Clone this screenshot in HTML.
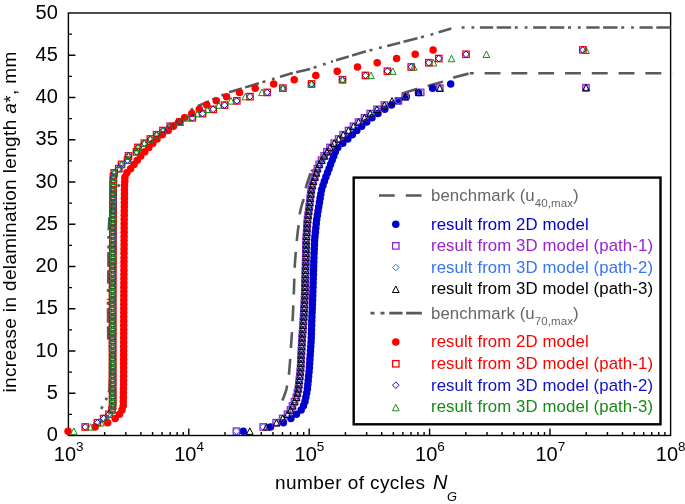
<!DOCTYPE html><html><head><meta charset="utf-8"><style>html,body{margin:0;padding:0;background:#fff}svg{display:block;will-change:transform}</style></head><body>
<svg width="685" height="504" viewBox="0 0 685 504" font-family="Liberation Sans, sans-serif">
<rect width="685" height="504" fill="#fff"/>
<defs><clipPath id="cp"><rect x="67.7" y="12" width="604.6" height="425"/></clipPath></defs>
<rect x="68.4" y="13.0" width="602.2" height="422.5" fill="none" stroke="#000" stroke-width="1.4"/><path d="M68.4 414.38h3.6 M68.4 393.25h7 M68.4 372.12h3.6 M68.4 351h7 M68.4 329.88h3.6 M68.4 308.75h7 M68.4 287.62h3.6 M68.4 266.5h7 M68.4 245.38h3.6 M68.4 224.25h7 M68.4 203.12h3.6 M68.4 182h7 M68.4 160.88h3.6 M68.4 139.75h7 M68.4 118.62h3.6 M68.4 97.5h7 M68.4 76.38h3.6 M68.4 55.25h7 M68.4 34.12h3.6 M104.64 435.5v-3.6 M125.85 435.5v-3.6 M140.89 435.5v-3.6 M152.56 435.5v-3.6 M162.09 435.5v-3.6 M170.15 435.5v-3.6 M177.13 435.5v-3.6 M183.29 435.5v-3.6 M188.8 435.5v-7 M225.04 435.5v-3.6 M246.25 435.5v-3.6 M261.29 435.5v-3.6 M272.96 435.5v-3.6 M282.49 435.5v-3.6 M290.55 435.5v-3.6 M297.53 435.5v-3.6 M303.69 435.5v-3.6 M309.2 435.5v-7 M345.44 435.5v-3.6 M366.65 435.5v-3.6 M381.69 435.5v-3.6 M393.36 435.5v-3.6 M402.89 435.5v-3.6 M410.95 435.5v-3.6 M417.93 435.5v-3.6 M424.09 435.5v-3.6 M429.6 435.5v-7 M465.84 435.5v-3.6 M487.05 435.5v-3.6 M502.09 435.5v-3.6 M513.76 435.5v-3.6 M523.29 435.5v-3.6 M531.35 435.5v-3.6 M538.33 435.5v-3.6 M544.49 435.5v-3.6 M550 435.5v-7 M586.24 435.5v-3.6 M607.45 435.5v-3.6 M622.49 435.5v-3.6 M634.16 435.5v-3.6 M643.69 435.5v-3.6 M651.75 435.5v-3.6 M658.73 435.5v-3.6 M664.89 435.5v-3.6" stroke="#000" stroke-width="1.4" fill="none"/><text x="57.8" y="441.1" font-size="20" text-anchor="end">0</text><text x="57.8" y="398.85" font-size="20" text-anchor="end">5</text><text x="57.8" y="356.6" font-size="20" text-anchor="end">10</text><text x="57.8" y="314.35" font-size="20" text-anchor="end">15</text><text x="57.8" y="272.1" font-size="20" text-anchor="end">20</text><text x="57.8" y="229.85" font-size="20" text-anchor="end">25</text><text x="57.8" y="187.6" font-size="20" text-anchor="end">30</text><text x="57.8" y="145.35" font-size="20" text-anchor="end">35</text><text x="57.8" y="103.1" font-size="20" text-anchor="end">40</text><text x="57.8" y="60.85" font-size="20" text-anchor="end">45</text><text x="57.8" y="18.6" font-size="20" text-anchor="end">50</text><text x="68.7" y="460.6" font-size="20" text-anchor="middle">10<tspan font-size="13.5" dy="-9.5">3</tspan></text><text x="189.1" y="460.6" font-size="20" text-anchor="middle">10<tspan font-size="13.5" dy="-9.5">4</tspan></text><text x="309.5" y="460.6" font-size="20" text-anchor="middle">10<tspan font-size="13.5" dy="-9.5">5</tspan></text><text x="429.9" y="460.6" font-size="20" text-anchor="middle">10<tspan font-size="13.5" dy="-9.5">6</tspan></text><text x="550.3" y="460.6" font-size="20" text-anchor="middle">10<tspan font-size="13.5" dy="-9.5">7</tspan></text><text x="670.7" y="460.6" font-size="20" text-anchor="middle">10<tspan font-size="13.5" dy="-9.5">8</tspan></text><text x="275" y="488.8" font-size="19" letter-spacing="0.42">number of cycles <tspan font-style="italic" font-size="20" dx="2">N</tspan><tspan font-style="italic" font-size="12.8" dy="12" dx="-1">G</tspan></text><text transform="translate(16,392.5) rotate(-90)" font-size="19" letter-spacing="0.36">increase in delamination length <tspan font-style="italic">a</tspan><tspan dy="1">*</tspan><tspan dy="-1">, mm</tspan></text>
<g clip-path="url(#cp)" fill="none" stroke="#595a5d" stroke-width="2.6">
<path d="M282.3 400.6 L284.2 396 L285.6 392 L286.6 388.5 L287.3 384 L289 373.8 L290.2 359.5 L291 346.4 L291.9 333.3 L292.6 320.2 L293.3 306 L293.8 293.6 L294.3 278.7 L294.8 265.6 L295.7 253 L297.1 237.5 L298.6 225 L299.8 213.4 L301.5 206 L303.4 200 L306.2 186 L308.5 179 L311.2 171.3" stroke-dasharray="15.9 10.9" stroke-dashoffset="0"/>
<path d="M311.2 171.3 L318 164 L330 152 L345 138.5 L360 126 L375 114.5 L390 104 L402 93.6 L416.6 88.9 L427.7 86 L441.7 81.9 L454.6 77.3 L469.8 73.3" stroke-dasharray="15.9 10.9" stroke-dashoffset="14.25"/>
<path d="M469.8 73.3 L672.5 73.3" stroke-dasharray="15.9 10.9" stroke-dashoffset="12"/>
<path d="M101.2 409 L104.1 403.3 L106.9 397.8 L109.5 390 L110.3 370 L110.2 347 L108.2 338 L108 300" stroke-dasharray="13.3 3.5 14.4 3.7 3 6.9 2.8 5.6" stroke-dashoffset="34.92"/>
<path d="M108 300 L108.3 280 L108.5 250 L108.7 230 L109.6 215 L114 198 L119.4 183.8 L124.5 174.8 L135 162 L145 150 L157 138.5 L170 127 L182 117 L194.2 107.6 L203.4 103.7" stroke-dasharray="13.3 3.5 14.4 3.7 3 6.9 2.8 5.6" stroke-dashoffset="36.69"/>
<path d="M203.4 103.7 L219.8 96.4 L228.3 92.5 L250 85.9 L282 76.2 L290 73.8 L311 68.7 L333 61.2" stroke-dasharray="13.3 3.5 14.4 3.7 3 6.9 2.8 5.6" stroke-dashoffset="25.1"/>
<path d="M333 61.2 L348 56.7 L365.3 51.6 L386 46.2 L400.7 42.6 L418.9 37.8 L434 33.7 L441.2 31.5 L451.3 28.6" stroke-dasharray="13.3 3.5 14.4 3.7 3 6.9 2.8 5.6" stroke-dashoffset="50.07"/>
<path d="M458 27.5 L672.5 27.5" stroke-dasharray="13.3 3.5 14.4 3.7 3 6.9 2.8 5.6" stroke-dashoffset="31.3"/>
</g>
<g><circle cx="243.2" cy="431.2" r="3.75" fill="#0000CD"/><circle cx="270.5" cy="426.96" r="3.75" fill="#0000CD"/><circle cx="283.4" cy="422.73" r="3.75" fill="#0000CD"/><circle cx="290.9" cy="418.5" r="3.75" fill="#0000CD"/><circle cx="296.4" cy="414.26" r="3.75" fill="#0000CD"/><circle cx="301.2" cy="410.02" r="3.75" fill="#0000CD"/><circle cx="303.5" cy="405.79" r="3.75" fill="#0000CD"/><circle cx="305" cy="401.56" r="3.75" fill="#0000CD"/><circle cx="305.84" cy="397.32" r="3.75" fill="#0000CD"/><circle cx="306.69" cy="393.08" r="3.75" fill="#0000CD"/><circle cx="307.41" cy="388.85" r="3.75" fill="#0000CD"/><circle cx="307.81" cy="384.62" r="3.75" fill="#0000CD"/><circle cx="308.21" cy="380.38" r="3.75" fill="#0000CD"/><circle cx="308.62" cy="376.14" r="3.75" fill="#0000CD"/><circle cx="309.02" cy="371.91" r="3.75" fill="#0000CD"/><circle cx="309.36" cy="367.67" r="3.75" fill="#0000CD"/><circle cx="309.64" cy="363.44" r="3.75" fill="#0000CD"/><circle cx="309.92" cy="359.2" r="3.75" fill="#0000CD"/><circle cx="310.2" cy="354.97" r="3.75" fill="#0000CD"/><circle cx="310.48" cy="350.74" r="3.75" fill="#0000CD"/><circle cx="310.77" cy="346.5" r="3.75" fill="#0000CD"/><circle cx="311.05" cy="342.26" r="3.75" fill="#0000CD"/><circle cx="311.26" cy="338.03" r="3.75" fill="#0000CD"/><circle cx="311.39" cy="333.79" r="3.75" fill="#0000CD"/><circle cx="311.51" cy="329.56" r="3.75" fill="#0000CD"/><circle cx="311.64" cy="325.32" r="3.75" fill="#0000CD"/><circle cx="311.77" cy="321.09" r="3.75" fill="#0000CD"/><circle cx="311.93" cy="316.85" r="3.75" fill="#0000CD"/><circle cx="312.1" cy="312.62" r="3.75" fill="#0000CD"/><circle cx="312.26" cy="308.38" r="3.75" fill="#0000CD"/><circle cx="312.43" cy="304.15" r="3.75" fill="#0000CD"/><circle cx="312.6" cy="299.91" r="3.75" fill="#0000CD"/><circle cx="312.73" cy="295.68" r="3.75" fill="#0000CD"/><circle cx="312.86" cy="291.44" r="3.75" fill="#0000CD"/><circle cx="312.98" cy="287.21" r="3.75" fill="#0000CD"/><circle cx="313.11" cy="282.97" r="3.75" fill="#0000CD"/><circle cx="313.24" cy="278.74" r="3.75" fill="#0000CD"/><circle cx="313.36" cy="274.5" r="3.75" fill="#0000CD"/><circle cx="313.49" cy="270.27" r="3.75" fill="#0000CD"/><circle cx="313.65" cy="266.03" r="3.75" fill="#0000CD"/><circle cx="313.8" cy="261.8" r="3.75" fill="#0000CD"/><circle cx="313.96" cy="257.56" r="3.75" fill="#0000CD"/><circle cx="314.11" cy="253.33" r="3.75" fill="#0000CD"/><circle cx="314.27" cy="249.09" r="3.75" fill="#0000CD"/><circle cx="314.42" cy="244.86" r="3.75" fill="#0000CD"/><circle cx="314.58" cy="240.62" r="3.75" fill="#0000CD"/><circle cx="314.96" cy="236.39" r="3.75" fill="#0000CD"/><circle cx="315.38" cy="232.15" r="3.75" fill="#0000CD"/><circle cx="315.81" cy="227.92" r="3.75" fill="#0000CD"/><circle cx="316.23" cy="223.68" r="3.75" fill="#0000CD"/><circle cx="316.69" cy="219.45" r="3.75" fill="#0000CD"/><circle cx="317.37" cy="215.21" r="3.75" fill="#0000CD"/><circle cx="318.04" cy="210.98" r="3.75" fill="#0000CD"/><circle cx="318.74" cy="206.74" r="3.75" fill="#0000CD"/><circle cx="319.44" cy="202.51" r="3.75" fill="#0000CD"/><circle cx="320.13" cy="198.27" r="3.75" fill="#0000CD"/><circle cx="320.83" cy="194.04" r="3.75" fill="#0000CD"/><circle cx="321.56" cy="189.8" r="3.75" fill="#0000CD"/><circle cx="322.96" cy="185.57" r="3.75" fill="#0000CD"/><circle cx="324.36" cy="181.33" r="3.75" fill="#0000CD"/><circle cx="325.87" cy="177.1" r="3.75" fill="#0000CD"/><circle cx="327.44" cy="172.86" r="3.75" fill="#0000CD"/><circle cx="329.01" cy="168.63" r="3.75" fill="#0000CD"/><circle cx="330.57" cy="164.39" r="3.75" fill="#0000CD"/><circle cx="332.14" cy="160.16" r="3.75" fill="#0000CD"/><circle cx="333.74" cy="155.92" r="3.75" fill="#0000CD"/><circle cx="335.35" cy="151.69" r="3.75" fill="#0000CD"/><circle cx="337.8" cy="147.45" r="3.75" fill="#0000CD"/><circle cx="342.8" cy="143.22" r="3.75" fill="#0000CD"/><circle cx="347.8" cy="138.98" r="3.75" fill="#0000CD"/><circle cx="352.3" cy="134.75" r="3.75" fill="#0000CD"/><circle cx="356.8" cy="130.51" r="3.75" fill="#0000CD"/><circle cx="361.7" cy="126.28" r="3.75" fill="#0000CD"/><circle cx="366.7" cy="122.04" r="3.75" fill="#0000CD"/><circle cx="372" cy="117.81" r="3.75" fill="#0000CD"/><circle cx="378" cy="113.57" r="3.75" fill="#0000CD"/><circle cx="384.8" cy="109.34" r="3.75" fill="#0000CD"/><circle cx="391.5" cy="105.1" r="3.75" fill="#0000CD"/><circle cx="398.4" cy="100.87" r="3.75" fill="#0000CD"/><circle cx="406.3" cy="96.63" r="3.75" fill="#0000CD"/><circle cx="418.4" cy="92.4" r="3.75" fill="#0000CD"/><circle cx="432.6" cy="88.16" r="3.75" fill="#0000CD"/><circle cx="450.7" cy="83.93" r="3.75" fill="#0000CD"/><rect x="233.2" y="428" width="6.4" height="6.4" fill="none" stroke="#9A22D0" stroke-width="1.3"/><rect x="260" y="423.76" width="6.4" height="6.4" fill="none" stroke="#9A22D0" stroke-width="1.3"/><rect x="272.9" y="419.53" width="6.4" height="6.4" fill="none" stroke="#9A22D0" stroke-width="1.3"/><rect x="279.5" y="415.3" width="6.4" height="6.4" fill="none" stroke="#9A22D0" stroke-width="1.3"/><rect x="284.3" y="411.06" width="6.4" height="6.4" fill="none" stroke="#9A22D0" stroke-width="1.3"/><rect x="287.3" y="406.82" width="6.4" height="6.4" fill="none" stroke="#9A22D0" stroke-width="1.3"/><rect x="289.3" y="402.59" width="6.4" height="6.4" fill="none" stroke="#9A22D0" stroke-width="1.3"/><rect x="291.3" y="398.36" width="6.4" height="6.4" fill="none" stroke="#9A22D0" stroke-width="1.3"/><rect x="293.16" y="394.12" width="6.4" height="6.4" fill="none" stroke="#9A22D0" stroke-width="1.3"/><rect x="294.18" y="389.88" width="6.4" height="6.4" fill="none" stroke="#9A22D0" stroke-width="1.3"/><rect x="295.12" y="385.65" width="6.4" height="6.4" fill="none" stroke="#9A22D0" stroke-width="1.3"/><rect x="295.61" y="381.42" width="6.4" height="6.4" fill="none" stroke="#9A22D0" stroke-width="1.3"/><rect x="296.1" y="377.18" width="6.4" height="6.4" fill="none" stroke="#9A22D0" stroke-width="1.3"/><rect x="296.59" y="372.94" width="6.4" height="6.4" fill="none" stroke="#9A22D0" stroke-width="1.3"/><rect x="297.08" y="368.71" width="6.4" height="6.4" fill="none" stroke="#9A22D0" stroke-width="1.3"/><rect x="297.42" y="364.47" width="6.4" height="6.4" fill="none" stroke="#9A22D0" stroke-width="1.3"/><rect x="297.63" y="360.24" width="6.4" height="6.4" fill="none" stroke="#9A22D0" stroke-width="1.3"/><rect x="297.84" y="356" width="6.4" height="6.4" fill="none" stroke="#9A22D0" stroke-width="1.3"/><rect x="298.05" y="351.77" width="6.4" height="6.4" fill="none" stroke="#9A22D0" stroke-width="1.3"/><rect x="298.26" y="347.54" width="6.4" height="6.4" fill="none" stroke="#9A22D0" stroke-width="1.3"/><rect x="298.48" y="343.3" width="6.4" height="6.4" fill="none" stroke="#9A22D0" stroke-width="1.3"/><rect x="298.69" y="339.06" width="6.4" height="6.4" fill="none" stroke="#9A22D0" stroke-width="1.3"/><rect x="298.95" y="334.83" width="6.4" height="6.4" fill="none" stroke="#9A22D0" stroke-width="1.3"/><rect x="299.27" y="330.59" width="6.4" height="6.4" fill="none" stroke="#9A22D0" stroke-width="1.3"/><rect x="299.58" y="326.36" width="6.4" height="6.4" fill="none" stroke="#9A22D0" stroke-width="1.3"/><rect x="299.9" y="322.12" width="6.4" height="6.4" fill="none" stroke="#9A22D0" stroke-width="1.3"/><rect x="300.22" y="317.89" width="6.4" height="6.4" fill="none" stroke="#9A22D0" stroke-width="1.3"/><rect x="300.47" y="313.65" width="6.4" height="6.4" fill="none" stroke="#9A22D0" stroke-width="1.3"/><rect x="300.71" y="309.42" width="6.4" height="6.4" fill="none" stroke="#9A22D0" stroke-width="1.3"/><rect x="300.94" y="305.19" width="6.4" height="6.4" fill="none" stroke="#9A22D0" stroke-width="1.3"/><rect x="301.17" y="300.95" width="6.4" height="6.4" fill="none" stroke="#9A22D0" stroke-width="1.3"/><rect x="301.4" y="296.71" width="6.4" height="6.4" fill="none" stroke="#9A22D0" stroke-width="1.3"/><rect x="301.53" y="292.48" width="6.4" height="6.4" fill="none" stroke="#9A22D0" stroke-width="1.3"/><rect x="301.66" y="288.24" width="6.4" height="6.4" fill="none" stroke="#9A22D0" stroke-width="1.3"/><rect x="301.78" y="284.01" width="6.4" height="6.4" fill="none" stroke="#9A22D0" stroke-width="1.3"/><rect x="301.91" y="279.77" width="6.4" height="6.4" fill="none" stroke="#9A22D0" stroke-width="1.3"/><rect x="302.04" y="275.54" width="6.4" height="6.4" fill="none" stroke="#9A22D0" stroke-width="1.3"/><rect x="302.16" y="271.31" width="6.4" height="6.4" fill="none" stroke="#9A22D0" stroke-width="1.3"/><rect x="302.29" y="267.07" width="6.4" height="6.4" fill="none" stroke="#9A22D0" stroke-width="1.3"/><rect x="302.39" y="262.83" width="6.4" height="6.4" fill="none" stroke="#9A22D0" stroke-width="1.3"/><rect x="302.49" y="258.6" width="6.4" height="6.4" fill="none" stroke="#9A22D0" stroke-width="1.3"/><rect x="302.59" y="254.36" width="6.4" height="6.4" fill="none" stroke="#9A22D0" stroke-width="1.3"/><rect x="302.69" y="250.13" width="6.4" height="6.4" fill="none" stroke="#9A22D0" stroke-width="1.3"/><rect x="302.79" y="245.89" width="6.4" height="6.4" fill="none" stroke="#9A22D0" stroke-width="1.3"/><rect x="302.89" y="241.66" width="6.4" height="6.4" fill="none" stroke="#9A22D0" stroke-width="1.3"/><rect x="302.99" y="237.42" width="6.4" height="6.4" fill="none" stroke="#9A22D0" stroke-width="1.3"/><rect x="303.23" y="233.19" width="6.4" height="6.4" fill="none" stroke="#9A22D0" stroke-width="1.3"/><rect x="303.51" y="228.95" width="6.4" height="6.4" fill="none" stroke="#9A22D0" stroke-width="1.3"/><rect x="303.79" y="224.72" width="6.4" height="6.4" fill="none" stroke="#9A22D0" stroke-width="1.3"/><rect x="304.06" y="220.48" width="6.4" height="6.4" fill="none" stroke="#9A22D0" stroke-width="1.3"/><rect x="304.37" y="216.25" width="6.4" height="6.4" fill="none" stroke="#9A22D0" stroke-width="1.3"/><rect x="304.94" y="212.01" width="6.4" height="6.4" fill="none" stroke="#9A22D0" stroke-width="1.3"/><rect x="305.5" y="207.78" width="6.4" height="6.4" fill="none" stroke="#9A22D0" stroke-width="1.3"/><rect x="306.07" y="203.54" width="6.4" height="6.4" fill="none" stroke="#9A22D0" stroke-width="1.3"/><rect x="306.58" y="199.31" width="6.4" height="6.4" fill="none" stroke="#9A22D0" stroke-width="1.3"/><rect x="307.06" y="195.07" width="6.4" height="6.4" fill="none" stroke="#9A22D0" stroke-width="1.3"/><rect x="307.54" y="190.84" width="6.4" height="6.4" fill="none" stroke="#9A22D0" stroke-width="1.3"/><rect x="308.04" y="186.6" width="6.4" height="6.4" fill="none" stroke="#9A22D0" stroke-width="1.3"/><rect x="309" y="182.37" width="6.4" height="6.4" fill="none" stroke="#9A22D0" stroke-width="1.3"/><rect x="310.04" y="178.13" width="6.4" height="6.4" fill="none" stroke="#9A22D0" stroke-width="1.3"/><rect x="311.55" y="173.9" width="6.4" height="6.4" fill="none" stroke="#9A22D0" stroke-width="1.3"/><rect x="312.93" y="169.66" width="6.4" height="6.4" fill="none" stroke="#9A22D0" stroke-width="1.3"/><rect x="314.18" y="165.43" width="6.4" height="6.4" fill="none" stroke="#9A22D0" stroke-width="1.3"/><rect x="316.03" y="161.19" width="6.4" height="6.4" fill="none" stroke="#9A22D0" stroke-width="1.3"/><rect x="318.31" y="156.96" width="6.4" height="6.4" fill="none" stroke="#9A22D0" stroke-width="1.3"/><rect x="320.96" y="152.72" width="6.4" height="6.4" fill="none" stroke="#9A22D0" stroke-width="1.3"/><rect x="323.76" y="148.49" width="6.4" height="6.4" fill="none" stroke="#9A22D0" stroke-width="1.3"/><rect x="326.8" y="144.25" width="6.4" height="6.4" fill="none" stroke="#9A22D0" stroke-width="1.3"/><rect x="331" y="140.02" width="6.4" height="6.4" fill="none" stroke="#9A22D0" stroke-width="1.3"/><rect x="335.4" y="135.78" width="6.4" height="6.4" fill="none" stroke="#9A22D0" stroke-width="1.3"/><rect x="340" y="131.55" width="6.4" height="6.4" fill="none" stroke="#9A22D0" stroke-width="1.3"/><rect x="345.3" y="127.31" width="6.4" height="6.4" fill="none" stroke="#9A22D0" stroke-width="1.3"/><rect x="350.3" y="123.08" width="6.4" height="6.4" fill="none" stroke="#9A22D0" stroke-width="1.3"/><rect x="355.3" y="118.84" width="6.4" height="6.4" fill="none" stroke="#9A22D0" stroke-width="1.3"/><rect x="361.3" y="114.61" width="6.4" height="6.4" fill="none" stroke="#9A22D0" stroke-width="1.3"/><rect x="367" y="110.37" width="6.4" height="6.4" fill="none" stroke="#9A22D0" stroke-width="1.3"/><rect x="373.8" y="106.14" width="6.4" height="6.4" fill="none" stroke="#9A22D0" stroke-width="1.3"/><rect x="381.2" y="101.9" width="6.4" height="6.4" fill="none" stroke="#9A22D0" stroke-width="1.3"/><rect x="395.2" y="97.67" width="6.4" height="6.4" fill="none" stroke="#9A22D0" stroke-width="1.3"/><rect x="402" y="93.43" width="6.4" height="6.4" fill="none" stroke="#9A22D0" stroke-width="1.3"/><rect x="417.5" y="89.2" width="6.4" height="6.4" fill="none" stroke="#9A22D0" stroke-width="1.3"/><rect x="436.6" y="84.96" width="6.4" height="6.4" fill="none" stroke="#9A22D0" stroke-width="1.3"/><rect x="582.8" y="84.5" width="6.4" height="6.4" fill="none" stroke="#9A22D0" stroke-width="1.3"/><path d="M236.4 427.9l3.3 3.3l-3.3 3.3l-3.3 -3.3z" fill="none" stroke="#3575F5" stroke-width="1.0"/><path d="M263.2 423.66l3.3 3.3l-3.3 3.3l-3.3 -3.3z" fill="none" stroke="#3575F5" stroke-width="1.0"/><path d="M276.1 419.43l3.3 3.3l-3.3 3.3l-3.3 -3.3z" fill="none" stroke="#3575F5" stroke-width="1.0"/><path d="M282.7 415.19l3.3 3.3l-3.3 3.3l-3.3 -3.3z" fill="none" stroke="#3575F5" stroke-width="1.0"/><path d="M287.5 410.96l3.3 3.3l-3.3 3.3l-3.3 -3.3z" fill="none" stroke="#3575F5" stroke-width="1.0"/><path d="M290.5 406.72l3.3 3.3l-3.3 3.3l-3.3 -3.3z" fill="none" stroke="#3575F5" stroke-width="1.0"/><path d="M292.5 402.49l3.3 3.3l-3.3 3.3l-3.3 -3.3z" fill="none" stroke="#3575F5" stroke-width="1.0"/><path d="M294.5 398.25l3.3 3.3l-3.3 3.3l-3.3 -3.3z" fill="none" stroke="#3575F5" stroke-width="1.0"/><path d="M296.36 394.02l3.3 3.3l-3.3 3.3l-3.3 -3.3z" fill="none" stroke="#3575F5" stroke-width="1.0"/><path d="M297.38 389.78l3.3 3.3l-3.3 3.3l-3.3 -3.3z" fill="none" stroke="#3575F5" stroke-width="1.0"/><path d="M298.32 385.55l3.3 3.3l-3.3 3.3l-3.3 -3.3z" fill="none" stroke="#3575F5" stroke-width="1.0"/><path d="M298.81 381.31l3.3 3.3l-3.3 3.3l-3.3 -3.3z" fill="none" stroke="#3575F5" stroke-width="1.0"/><path d="M299.3 377.08l3.3 3.3l-3.3 3.3l-3.3 -3.3z" fill="none" stroke="#3575F5" stroke-width="1.0"/><path d="M299.79 372.84l3.3 3.3l-3.3 3.3l-3.3 -3.3z" fill="none" stroke="#3575F5" stroke-width="1.0"/><path d="M300.28 368.61l3.3 3.3l-3.3 3.3l-3.3 -3.3z" fill="none" stroke="#3575F5" stroke-width="1.0"/><path d="M300.62 364.37l3.3 3.3l-3.3 3.3l-3.3 -3.3z" fill="none" stroke="#3575F5" stroke-width="1.0"/><path d="M300.83 360.14l3.3 3.3l-3.3 3.3l-3.3 -3.3z" fill="none" stroke="#3575F5" stroke-width="1.0"/><path d="M301.04 355.9l3.3 3.3l-3.3 3.3l-3.3 -3.3z" fill="none" stroke="#3575F5" stroke-width="1.0"/><path d="M301.25 351.67l3.3 3.3l-3.3 3.3l-3.3 -3.3z" fill="none" stroke="#3575F5" stroke-width="1.0"/><path d="M301.46 347.44l3.3 3.3l-3.3 3.3l-3.3 -3.3z" fill="none" stroke="#3575F5" stroke-width="1.0"/><path d="M301.68 343.2l3.3 3.3l-3.3 3.3l-3.3 -3.3z" fill="none" stroke="#3575F5" stroke-width="1.0"/><path d="M301.89 338.96l3.3 3.3l-3.3 3.3l-3.3 -3.3z" fill="none" stroke="#3575F5" stroke-width="1.0"/><path d="M302.15 334.73l3.3 3.3l-3.3 3.3l-3.3 -3.3z" fill="none" stroke="#3575F5" stroke-width="1.0"/><path d="M302.47 330.49l3.3 3.3l-3.3 3.3l-3.3 -3.3z" fill="none" stroke="#3575F5" stroke-width="1.0"/><path d="M302.78 326.26l3.3 3.3l-3.3 3.3l-3.3 -3.3z" fill="none" stroke="#3575F5" stroke-width="1.0"/><path d="M303.1 322.02l3.3 3.3l-3.3 3.3l-3.3 -3.3z" fill="none" stroke="#3575F5" stroke-width="1.0"/><path d="M303.42 317.79l3.3 3.3l-3.3 3.3l-3.3 -3.3z" fill="none" stroke="#3575F5" stroke-width="1.0"/><path d="M303.67 313.55l3.3 3.3l-3.3 3.3l-3.3 -3.3z" fill="none" stroke="#3575F5" stroke-width="1.0"/><path d="M303.91 309.32l3.3 3.3l-3.3 3.3l-3.3 -3.3z" fill="none" stroke="#3575F5" stroke-width="1.0"/><path d="M304.14 305.08l3.3 3.3l-3.3 3.3l-3.3 -3.3z" fill="none" stroke="#3575F5" stroke-width="1.0"/><path d="M304.37 300.85l3.3 3.3l-3.3 3.3l-3.3 -3.3z" fill="none" stroke="#3575F5" stroke-width="1.0"/><path d="M304.6 296.61l3.3 3.3l-3.3 3.3l-3.3 -3.3z" fill="none" stroke="#3575F5" stroke-width="1.0"/><path d="M304.73 292.38l3.3 3.3l-3.3 3.3l-3.3 -3.3z" fill="none" stroke="#3575F5" stroke-width="1.0"/><path d="M304.86 288.14l3.3 3.3l-3.3 3.3l-3.3 -3.3z" fill="none" stroke="#3575F5" stroke-width="1.0"/><path d="M304.98 283.91l3.3 3.3l-3.3 3.3l-3.3 -3.3z" fill="none" stroke="#3575F5" stroke-width="1.0"/><path d="M305.11 279.67l3.3 3.3l-3.3 3.3l-3.3 -3.3z" fill="none" stroke="#3575F5" stroke-width="1.0"/><path d="M305.24 275.44l3.3 3.3l-3.3 3.3l-3.3 -3.3z" fill="none" stroke="#3575F5" stroke-width="1.0"/><path d="M305.36 271.2l3.3 3.3l-3.3 3.3l-3.3 -3.3z" fill="none" stroke="#3575F5" stroke-width="1.0"/><path d="M305.49 266.97l3.3 3.3l-3.3 3.3l-3.3 -3.3z" fill="none" stroke="#3575F5" stroke-width="1.0"/><path d="M305.59 262.73l3.3 3.3l-3.3 3.3l-3.3 -3.3z" fill="none" stroke="#3575F5" stroke-width="1.0"/><path d="M305.69 258.5l3.3 3.3l-3.3 3.3l-3.3 -3.3z" fill="none" stroke="#3575F5" stroke-width="1.0"/><path d="M305.79 254.26l3.3 3.3l-3.3 3.3l-3.3 -3.3z" fill="none" stroke="#3575F5" stroke-width="1.0"/><path d="M305.89 250.03l3.3 3.3l-3.3 3.3l-3.3 -3.3z" fill="none" stroke="#3575F5" stroke-width="1.0"/><path d="M305.99 245.79l3.3 3.3l-3.3 3.3l-3.3 -3.3z" fill="none" stroke="#3575F5" stroke-width="1.0"/><path d="M306.09 241.56l3.3 3.3l-3.3 3.3l-3.3 -3.3z" fill="none" stroke="#3575F5" stroke-width="1.0"/><path d="M306.19 237.32l3.3 3.3l-3.3 3.3l-3.3 -3.3z" fill="none" stroke="#3575F5" stroke-width="1.0"/><path d="M306.43 233.09l3.3 3.3l-3.3 3.3l-3.3 -3.3z" fill="none" stroke="#3575F5" stroke-width="1.0"/><path d="M306.71 228.85l3.3 3.3l-3.3 3.3l-3.3 -3.3z" fill="none" stroke="#3575F5" stroke-width="1.0"/><path d="M306.99 224.62l3.3 3.3l-3.3 3.3l-3.3 -3.3z" fill="none" stroke="#3575F5" stroke-width="1.0"/><path d="M307.26 220.38l3.3 3.3l-3.3 3.3l-3.3 -3.3z" fill="none" stroke="#3575F5" stroke-width="1.0"/><path d="M307.57 216.15l3.3 3.3l-3.3 3.3l-3.3 -3.3z" fill="none" stroke="#3575F5" stroke-width="1.0"/><path d="M308.14 211.91l3.3 3.3l-3.3 3.3l-3.3 -3.3z" fill="none" stroke="#3575F5" stroke-width="1.0"/><path d="M308.7 207.68l3.3 3.3l-3.3 3.3l-3.3 -3.3z" fill="none" stroke="#3575F5" stroke-width="1.0"/><path d="M309.27 203.44l3.3 3.3l-3.3 3.3l-3.3 -3.3z" fill="none" stroke="#3575F5" stroke-width="1.0"/><path d="M309.78 199.21l3.3 3.3l-3.3 3.3l-3.3 -3.3z" fill="none" stroke="#3575F5" stroke-width="1.0"/><path d="M310.26 194.97l3.3 3.3l-3.3 3.3l-3.3 -3.3z" fill="none" stroke="#3575F5" stroke-width="1.0"/><path d="M310.74 190.74l3.3 3.3l-3.3 3.3l-3.3 -3.3z" fill="none" stroke="#3575F5" stroke-width="1.0"/><path d="M311.24 186.5l3.3 3.3l-3.3 3.3l-3.3 -3.3z" fill="none" stroke="#3575F5" stroke-width="1.0"/><path d="M312.2 182.27l3.3 3.3l-3.3 3.3l-3.3 -3.3z" fill="none" stroke="#3575F5" stroke-width="1.0"/><path d="M313.24 178.03l3.3 3.3l-3.3 3.3l-3.3 -3.3z" fill="none" stroke="#3575F5" stroke-width="1.0"/><path d="M314.75 173.8l3.3 3.3l-3.3 3.3l-3.3 -3.3z" fill="none" stroke="#3575F5" stroke-width="1.0"/><path d="M316.13 169.56l3.3 3.3l-3.3 3.3l-3.3 -3.3z" fill="none" stroke="#3575F5" stroke-width="1.0"/><path d="M317.38 165.33l3.3 3.3l-3.3 3.3l-3.3 -3.3z" fill="none" stroke="#3575F5" stroke-width="1.0"/><path d="M319.23 161.09l3.3 3.3l-3.3 3.3l-3.3 -3.3z" fill="none" stroke="#3575F5" stroke-width="1.0"/><path d="M321.51 156.86l3.3 3.3l-3.3 3.3l-3.3 -3.3z" fill="none" stroke="#3575F5" stroke-width="1.0"/><path d="M324.16 152.62l3.3 3.3l-3.3 3.3l-3.3 -3.3z" fill="none" stroke="#3575F5" stroke-width="1.0"/><path d="M326.96 148.39l3.3 3.3l-3.3 3.3l-3.3 -3.3z" fill="none" stroke="#3575F5" stroke-width="1.0"/><path d="M330 144.15l3.3 3.3l-3.3 3.3l-3.3 -3.3z" fill="none" stroke="#3575F5" stroke-width="1.0"/><path d="M334.2 139.92l3.3 3.3l-3.3 3.3l-3.3 -3.3z" fill="none" stroke="#3575F5" stroke-width="1.0"/><path d="M338.6 135.68l3.3 3.3l-3.3 3.3l-3.3 -3.3z" fill="none" stroke="#3575F5" stroke-width="1.0"/><path d="M343.2 131.45l3.3 3.3l-3.3 3.3l-3.3 -3.3z" fill="none" stroke="#3575F5" stroke-width="1.0"/><path d="M348.5 127.21l3.3 3.3l-3.3 3.3l-3.3 -3.3z" fill="none" stroke="#3575F5" stroke-width="1.0"/><path d="M353.5 122.98l3.3 3.3l-3.3 3.3l-3.3 -3.3z" fill="none" stroke="#3575F5" stroke-width="1.0"/><path d="M358.5 118.74l3.3 3.3l-3.3 3.3l-3.3 -3.3z" fill="none" stroke="#3575F5" stroke-width="1.0"/><path d="M364.5 114.51l3.3 3.3l-3.3 3.3l-3.3 -3.3z" fill="none" stroke="#3575F5" stroke-width="1.0"/><path d="M370.2 110.27l3.3 3.3l-3.3 3.3l-3.3 -3.3z" fill="none" stroke="#3575F5" stroke-width="1.0"/><path d="M377 106.04l3.3 3.3l-3.3 3.3l-3.3 -3.3z" fill="none" stroke="#3575F5" stroke-width="1.0"/><path d="M384.4 101.8l3.3 3.3l-3.3 3.3l-3.3 -3.3z" fill="none" stroke="#3575F5" stroke-width="1.0"/><path d="M398.4 97.57l3.3 3.3l-3.3 3.3l-3.3 -3.3z" fill="none" stroke="#3575F5" stroke-width="1.0"/><path d="M405.2 93.33l3.3 3.3l-3.3 3.3l-3.3 -3.3z" fill="none" stroke="#3575F5" stroke-width="1.0"/><path d="M420.7 89.1l3.3 3.3l-3.3 3.3l-3.3 -3.3z" fill="none" stroke="#3575F5" stroke-width="1.0"/><path d="M439.8 84.86l3.3 3.3l-3.3 3.3l-3.3 -3.3z" fill="none" stroke="#3575F5" stroke-width="1.0"/><path d="M586 84.4l3.3 3.3l-3.3 3.3l-3.3 -3.3z" fill="none" stroke="#3575F5" stroke-width="1.0"/><path d="M249.8 427.9l3.35 6.5h-6.7z" fill="none" stroke="#000000" stroke-width="1.0"/><path d="M266.6 423.66l3.35 6.5h-6.7z" fill="none" stroke="#000000" stroke-width="1.0"/><path d="M276.5 419.43l3.35 6.5h-6.7z" fill="none" stroke="#000000" stroke-width="1.0"/><path d="M282.7 415.19l3.35 6.5h-6.7z" fill="none" stroke="#000000" stroke-width="1.0"/><path d="M287.5 410.96l3.35 6.5h-6.7z" fill="none" stroke="#000000" stroke-width="1.0"/><path d="M290.5 406.72l3.35 6.5h-6.7z" fill="none" stroke="#000000" stroke-width="1.0"/><path d="M292.5 402.49l3.35 6.5h-6.7z" fill="none" stroke="#000000" stroke-width="1.0"/><path d="M294.5 398.25l3.35 6.5h-6.7z" fill="none" stroke="#000000" stroke-width="1.0"/><path d="M296.36 394.02l3.35 6.5h-6.7z" fill="none" stroke="#000000" stroke-width="1.0"/><path d="M297.38 389.78l3.35 6.5h-6.7z" fill="none" stroke="#000000" stroke-width="1.0"/><path d="M298.32 385.55l3.35 6.5h-6.7z" fill="none" stroke="#000000" stroke-width="1.0"/><path d="M298.81 381.31l3.35 6.5h-6.7z" fill="none" stroke="#000000" stroke-width="1.0"/><path d="M299.3 377.08l3.35 6.5h-6.7z" fill="none" stroke="#000000" stroke-width="1.0"/><path d="M299.79 372.84l3.35 6.5h-6.7z" fill="none" stroke="#000000" stroke-width="1.0"/><path d="M300.28 368.61l3.35 6.5h-6.7z" fill="none" stroke="#000000" stroke-width="1.0"/><path d="M300.62 364.37l3.35 6.5h-6.7z" fill="none" stroke="#000000" stroke-width="1.0"/><path d="M300.83 360.14l3.35 6.5h-6.7z" fill="none" stroke="#000000" stroke-width="1.0"/><path d="M301.04 355.9l3.35 6.5h-6.7z" fill="none" stroke="#000000" stroke-width="1.0"/><path d="M301.25 351.67l3.35 6.5h-6.7z" fill="none" stroke="#000000" stroke-width="1.0"/><path d="M301.46 347.44l3.35 6.5h-6.7z" fill="none" stroke="#000000" stroke-width="1.0"/><path d="M301.68 343.2l3.35 6.5h-6.7z" fill="none" stroke="#000000" stroke-width="1.0"/><path d="M301.89 338.96l3.35 6.5h-6.7z" fill="none" stroke="#000000" stroke-width="1.0"/><path d="M302.15 334.73l3.35 6.5h-6.7z" fill="none" stroke="#000000" stroke-width="1.0"/><path d="M302.47 330.49l3.35 6.5h-6.7z" fill="none" stroke="#000000" stroke-width="1.0"/><path d="M302.78 326.26l3.35 6.5h-6.7z" fill="none" stroke="#000000" stroke-width="1.0"/><path d="M303.1 322.02l3.35 6.5h-6.7z" fill="none" stroke="#000000" stroke-width="1.0"/><path d="M303.42 317.79l3.35 6.5h-6.7z" fill="none" stroke="#000000" stroke-width="1.0"/><path d="M303.67 313.55l3.35 6.5h-6.7z" fill="none" stroke="#000000" stroke-width="1.0"/><path d="M303.91 309.32l3.35 6.5h-6.7z" fill="none" stroke="#000000" stroke-width="1.0"/><path d="M304.14 305.08l3.35 6.5h-6.7z" fill="none" stroke="#000000" stroke-width="1.0"/><path d="M304.37 300.85l3.35 6.5h-6.7z" fill="none" stroke="#000000" stroke-width="1.0"/><path d="M304.6 296.61l3.35 6.5h-6.7z" fill="none" stroke="#000000" stroke-width="1.0"/><path d="M304.73 292.38l3.35 6.5h-6.7z" fill="none" stroke="#000000" stroke-width="1.0"/><path d="M304.86 288.14l3.35 6.5h-6.7z" fill="none" stroke="#000000" stroke-width="1.0"/><path d="M304.98 283.91l3.35 6.5h-6.7z" fill="none" stroke="#000000" stroke-width="1.0"/><path d="M305.11 279.67l3.35 6.5h-6.7z" fill="none" stroke="#000000" stroke-width="1.0"/><path d="M305.24 275.44l3.35 6.5h-6.7z" fill="none" stroke="#000000" stroke-width="1.0"/><path d="M305.36 271.2l3.35 6.5h-6.7z" fill="none" stroke="#000000" stroke-width="1.0"/><path d="M305.49 266.97l3.35 6.5h-6.7z" fill="none" stroke="#000000" stroke-width="1.0"/><path d="M305.59 262.73l3.35 6.5h-6.7z" fill="none" stroke="#000000" stroke-width="1.0"/><path d="M305.69 258.5l3.35 6.5h-6.7z" fill="none" stroke="#000000" stroke-width="1.0"/><path d="M305.79 254.26l3.35 6.5h-6.7z" fill="none" stroke="#000000" stroke-width="1.0"/><path d="M305.89 250.03l3.35 6.5h-6.7z" fill="none" stroke="#000000" stroke-width="1.0"/><path d="M305.99 245.79l3.35 6.5h-6.7z" fill="none" stroke="#000000" stroke-width="1.0"/><path d="M306.09 241.56l3.35 6.5h-6.7z" fill="none" stroke="#000000" stroke-width="1.0"/><path d="M306.19 237.32l3.35 6.5h-6.7z" fill="none" stroke="#000000" stroke-width="1.0"/><path d="M306.43 233.09l3.35 6.5h-6.7z" fill="none" stroke="#000000" stroke-width="1.0"/><path d="M306.71 228.85l3.35 6.5h-6.7z" fill="none" stroke="#000000" stroke-width="1.0"/><path d="M306.99 224.62l3.35 6.5h-6.7z" fill="none" stroke="#000000" stroke-width="1.0"/><path d="M307.26 220.38l3.35 6.5h-6.7z" fill="none" stroke="#000000" stroke-width="1.0"/><path d="M307.57 216.15l3.35 6.5h-6.7z" fill="none" stroke="#000000" stroke-width="1.0"/><path d="M308.14 211.91l3.35 6.5h-6.7z" fill="none" stroke="#000000" stroke-width="1.0"/><path d="M308.7 207.68l3.35 6.5h-6.7z" fill="none" stroke="#000000" stroke-width="1.0"/><path d="M309.27 203.44l3.35 6.5h-6.7z" fill="none" stroke="#000000" stroke-width="1.0"/><path d="M309.78 199.21l3.35 6.5h-6.7z" fill="none" stroke="#000000" stroke-width="1.0"/><path d="M310.26 194.97l3.35 6.5h-6.7z" fill="none" stroke="#000000" stroke-width="1.0"/><path d="M310.74 190.74l3.35 6.5h-6.7z" fill="none" stroke="#000000" stroke-width="1.0"/><path d="M311.24 186.5l3.35 6.5h-6.7z" fill="none" stroke="#000000" stroke-width="1.0"/><path d="M312.2 182.27l3.35 6.5h-6.7z" fill="none" stroke="#000000" stroke-width="1.0"/><path d="M313.24 178.03l3.35 6.5h-6.7z" fill="none" stroke="#000000" stroke-width="1.0"/><path d="M314.75 173.8l3.35 6.5h-6.7z" fill="none" stroke="#000000" stroke-width="1.0"/><path d="M316.13 169.56l3.35 6.5h-6.7z" fill="none" stroke="#000000" stroke-width="1.0"/><path d="M317.38 165.33l3.35 6.5h-6.7z" fill="none" stroke="#000000" stroke-width="1.0"/><path d="M319.23 161.09l3.35 6.5h-6.7z" fill="none" stroke="#000000" stroke-width="1.0"/><path d="M321.51 156.86l3.35 6.5h-6.7z" fill="none" stroke="#000000" stroke-width="1.0"/><path d="M324.16 152.62l3.35 6.5h-6.7z" fill="none" stroke="#000000" stroke-width="1.0"/><path d="M326.96 148.39l3.35 6.5h-6.7z" fill="none" stroke="#000000" stroke-width="1.0"/><path d="M330 144.15l3.35 6.5h-6.7z" fill="none" stroke="#000000" stroke-width="1.0"/><path d="M334.2 139.92l3.35 6.5h-6.7z" fill="none" stroke="#000000" stroke-width="1.0"/><path d="M338.6 135.68l3.35 6.5h-6.7z" fill="none" stroke="#000000" stroke-width="1.0"/><path d="M343.2 131.45l3.35 6.5h-6.7z" fill="none" stroke="#000000" stroke-width="1.0"/><path d="M348.5 127.21l3.35 6.5h-6.7z" fill="none" stroke="#000000" stroke-width="1.0"/><path d="M353.5 122.98l3.35 6.5h-6.7z" fill="none" stroke="#000000" stroke-width="1.0"/><path d="M358.5 118.74l3.35 6.5h-6.7z" fill="none" stroke="#000000" stroke-width="1.0"/><path d="M364.5 114.51l3.35 6.5h-6.7z" fill="none" stroke="#000000" stroke-width="1.0"/><path d="M370.2 110.27l3.35 6.5h-6.7z" fill="none" stroke="#000000" stroke-width="1.0"/><path d="M377 106.04l3.35 6.5h-6.7z" fill="none" stroke="#000000" stroke-width="1.0"/><path d="M384.4 101.8l3.35 6.5h-6.7z" fill="none" stroke="#000000" stroke-width="1.0"/><path d="M392 97.57l3.35 6.5h-6.7z" fill="none" stroke="#000000" stroke-width="1.0"/><path d="M405.2 93.33l3.35 6.5h-6.7z" fill="none" stroke="#000000" stroke-width="1.0"/><path d="M418.8 89.1l3.35 6.5h-6.7z" fill="none" stroke="#000000" stroke-width="1.0"/><path d="M439.8 84.86l3.35 6.5h-6.7z" fill="none" stroke="#000000" stroke-width="1.0"/><path d="M586 84.4l3.35 6.5h-6.7z" fill="none" stroke="#000000" stroke-width="1.0"/><circle cx="68.05" cy="431.2" r="3.75" fill="#FF0000"/><circle cx="95.1" cy="426.96" r="3.75" fill="#FF0000"/><circle cx="107.7" cy="422.73" r="3.75" fill="#FF0000"/><circle cx="115.2" cy="418.5" r="3.75" fill="#FF0000"/><circle cx="119.5" cy="414.26" r="3.75" fill="#FF0000"/><circle cx="122" cy="410.02" r="3.75" fill="#FF0000"/><circle cx="123.2" cy="405.79" r="3.75" fill="#FF0000"/><circle cx="123.27" cy="401.56" r="3.75" fill="#FF0000"/><circle cx="123.33" cy="397.32" r="3.75" fill="#FF0000"/><circle cx="123.4" cy="393.08" r="3.75" fill="#FF0000"/><circle cx="123.46" cy="388.85" r="3.75" fill="#FF0000"/><circle cx="123.53" cy="384.62" r="3.75" fill="#FF0000"/><circle cx="123.59" cy="380.38" r="3.75" fill="#FF0000"/><circle cx="123.61" cy="376.14" r="3.75" fill="#FF0000"/><circle cx="123.62" cy="371.91" r="3.75" fill="#FF0000"/><circle cx="123.63" cy="367.67" r="3.75" fill="#FF0000"/><circle cx="123.64" cy="363.44" r="3.75" fill="#FF0000"/><circle cx="123.65" cy="359.2" r="3.75" fill="#FF0000"/><circle cx="123.66" cy="354.97" r="3.75" fill="#FF0000"/><circle cx="123.67" cy="350.74" r="3.75" fill="#FF0000"/><circle cx="123.68" cy="346.5" r="3.75" fill="#FF0000"/><circle cx="123.69" cy="342.26" r="3.75" fill="#FF0000"/><circle cx="123.7" cy="338.03" r="3.75" fill="#FF0000"/><circle cx="123.72" cy="333.79" r="3.75" fill="#FF0000"/><circle cx="123.73" cy="329.56" r="3.75" fill="#FF0000"/><circle cx="123.74" cy="325.32" r="3.75" fill="#FF0000"/><circle cx="123.75" cy="321.09" r="3.75" fill="#FF0000"/><circle cx="123.76" cy="316.85" r="3.75" fill="#FF0000"/><circle cx="123.77" cy="312.62" r="3.75" fill="#FF0000"/><circle cx="123.78" cy="308.38" r="3.75" fill="#FF0000"/><circle cx="123.79" cy="304.15" r="3.75" fill="#FF0000"/><circle cx="123.8" cy="299.91" r="3.75" fill="#FF0000"/><circle cx="123.82" cy="295.68" r="3.75" fill="#FF0000"/><circle cx="123.84" cy="291.44" r="3.75" fill="#FF0000"/><circle cx="123.86" cy="287.21" r="3.75" fill="#FF0000"/><circle cx="123.89" cy="282.97" r="3.75" fill="#FF0000"/><circle cx="123.91" cy="278.74" r="3.75" fill="#FF0000"/><circle cx="123.93" cy="274.5" r="3.75" fill="#FF0000"/><circle cx="123.95" cy="270.27" r="3.75" fill="#FF0000"/><circle cx="123.97" cy="266.03" r="3.75" fill="#FF0000"/><circle cx="123.99" cy="261.8" r="3.75" fill="#FF0000"/><circle cx="124.01" cy="257.56" r="3.75" fill="#FF0000"/><circle cx="124.03" cy="253.33" r="3.75" fill="#FF0000"/><circle cx="124.05" cy="249.09" r="3.75" fill="#FF0000"/><circle cx="124.08" cy="244.86" r="3.75" fill="#FF0000"/><circle cx="124.1" cy="240.62" r="3.75" fill="#FF0000"/><circle cx="124.12" cy="236.39" r="3.75" fill="#FF0000"/><circle cx="124.14" cy="232.15" r="3.75" fill="#FF0000"/><circle cx="124.16" cy="227.92" r="3.75" fill="#FF0000"/><circle cx="124.18" cy="223.68" r="3.75" fill="#FF0000"/><circle cx="124.2" cy="219.45" r="3.75" fill="#FF0000"/><circle cx="124.24" cy="215.21" r="3.75" fill="#FF0000"/><circle cx="124.28" cy="210.98" r="3.75" fill="#FF0000"/><circle cx="124.32" cy="206.74" r="3.75" fill="#FF0000"/><circle cx="124.35" cy="202.51" r="3.75" fill="#FF0000"/><circle cx="124.39" cy="198.27" r="3.75" fill="#FF0000"/><circle cx="124.43" cy="194.04" r="3.75" fill="#FF0000"/><circle cx="124.47" cy="189.8" r="3.75" fill="#FF0000"/><circle cx="124.52" cy="185.57" r="3.75" fill="#FF0000"/><circle cx="124.76" cy="181.33" r="3.75" fill="#FF0000"/><circle cx="125" cy="177.1" r="3.75" fill="#FF0000"/><circle cx="126.9" cy="172.86" r="3.75" fill="#FF0000"/><circle cx="130.6" cy="168.63" r="3.75" fill="#FF0000"/><circle cx="134" cy="164.39" r="3.75" fill="#FF0000"/><circle cx="137.3" cy="160.16" r="3.75" fill="#FF0000"/><circle cx="140.8" cy="155.92" r="3.75" fill="#FF0000"/><circle cx="144.8" cy="151.69" r="3.75" fill="#FF0000"/><circle cx="148.8" cy="147.45" r="3.75" fill="#FF0000"/><circle cx="152.8" cy="143.22" r="3.75" fill="#FF0000"/><circle cx="157" cy="138.98" r="3.75" fill="#FF0000"/><circle cx="162.3" cy="134.75" r="3.75" fill="#FF0000"/><circle cx="168.2" cy="130.51" r="3.75" fill="#FF0000"/><circle cx="173.5" cy="126.28" r="3.75" fill="#FF0000"/><circle cx="178.7" cy="122.04" r="3.75" fill="#FF0000"/><circle cx="184.5" cy="117.81" r="3.75" fill="#FF0000"/><circle cx="191.8" cy="113.57" r="3.75" fill="#FF0000"/><circle cx="199.3" cy="109.34" r="3.75" fill="#FF0000"/><circle cx="206.8" cy="105.1" r="3.75" fill="#FF0000"/><circle cx="216.3" cy="100.87" r="3.75" fill="#FF0000"/><circle cx="226.5" cy="96.63" r="3.75" fill="#FF0000"/><circle cx="239.5" cy="92.4" r="3.75" fill="#FF0000"/><circle cx="255.2" cy="88.16" r="3.75" fill="#FF0000"/><circle cx="273.7" cy="83.93" r="3.75" fill="#FF0000"/><circle cx="294.2" cy="79.69" r="3.75" fill="#FF0000"/><circle cx="315.8" cy="75.46" r="3.75" fill="#FF0000"/><circle cx="337.2" cy="71.22" r="3.75" fill="#FF0000"/><circle cx="357.5" cy="66.99" r="3.75" fill="#FF0000"/><circle cx="377.2" cy="62.75" r="3.75" fill="#FF0000"/><circle cx="396.6" cy="58.52" r="3.75" fill="#FF0000"/><circle cx="415.2" cy="54.28" r="3.75" fill="#FF0000"/><circle cx="433.1" cy="50.05" r="3.75" fill="#FF0000"/><rect x="82" y="423.76" width="6.4" height="6.4" fill="none" stroke="#FF0000" stroke-width="1.3"/><rect x="94.2" y="419.53" width="6.4" height="6.4" fill="none" stroke="#FF0000" stroke-width="1.3"/><rect x="100.5" y="415.3" width="6.4" height="6.4" fill="none" stroke="#FF0000" stroke-width="1.3"/><rect x="105.8" y="411.06" width="6.4" height="6.4" fill="none" stroke="#FF0000" stroke-width="1.3"/><rect x="108.8" y="406.82" width="6.4" height="6.4" fill="none" stroke="#FF0000" stroke-width="1.3"/><rect x="109.5" y="402.59" width="6.4" height="6.4" fill="none" stroke="#FF0000" stroke-width="1.3"/><rect x="109.48" y="398.36" width="6.4" height="6.4" fill="none" stroke="#FF0000" stroke-width="1.3"/><rect x="109.47" y="394.12" width="6.4" height="6.4" fill="none" stroke="#FF0000" stroke-width="1.3"/><rect x="109.45" y="389.88" width="6.4" height="6.4" fill="none" stroke="#FF0000" stroke-width="1.3"/><rect x="109.43" y="385.65" width="6.4" height="6.4" fill="none" stroke="#FF0000" stroke-width="1.3"/><rect x="109.42" y="381.42" width="6.4" height="6.4" fill="none" stroke="#FF0000" stroke-width="1.3"/><rect x="109.4" y="377.18" width="6.4" height="6.4" fill="none" stroke="#FF0000" stroke-width="1.3"/><rect x="109.4" y="372.94" width="6.4" height="6.4" fill="none" stroke="#FF0000" stroke-width="1.3"/><rect x="109.4" y="368.71" width="6.4" height="6.4" fill="none" stroke="#FF0000" stroke-width="1.3"/><rect x="109.4" y="364.47" width="6.4" height="6.4" fill="none" stroke="#FF0000" stroke-width="1.3"/><rect x="109.4" y="360.24" width="6.4" height="6.4" fill="none" stroke="#FF0000" stroke-width="1.3"/><rect x="109.4" y="356" width="6.4" height="6.4" fill="none" stroke="#FF0000" stroke-width="1.3"/><rect x="109.4" y="351.77" width="6.4" height="6.4" fill="none" stroke="#FF0000" stroke-width="1.3"/><rect x="109.4" y="347.54" width="6.4" height="6.4" fill="none" stroke="#FF0000" stroke-width="1.3"/><rect x="109.4" y="343.3" width="6.4" height="6.4" fill="none" stroke="#FF0000" stroke-width="1.3"/><rect x="109.4" y="339.06" width="6.4" height="6.4" fill="none" stroke="#FF0000" stroke-width="1.3"/><rect x="109.4" y="334.83" width="6.4" height="6.4" fill="none" stroke="#FF0000" stroke-width="1.3"/><rect x="109.4" y="330.59" width="6.4" height="6.4" fill="none" stroke="#FF0000" stroke-width="1.3"/><rect x="109.4" y="326.36" width="6.4" height="6.4" fill="none" stroke="#FF0000" stroke-width="1.3"/><rect x="109.4" y="322.12" width="6.4" height="6.4" fill="none" stroke="#FF0000" stroke-width="1.3"/><rect x="109.4" y="317.89" width="6.4" height="6.4" fill="none" stroke="#FF0000" stroke-width="1.3"/><rect x="109.4" y="313.65" width="6.4" height="6.4" fill="none" stroke="#FF0000" stroke-width="1.3"/><rect x="109.4" y="309.42" width="6.4" height="6.4" fill="none" stroke="#FF0000" stroke-width="1.3"/><rect x="109.4" y="305.19" width="6.4" height="6.4" fill="none" stroke="#FF0000" stroke-width="1.3"/><rect x="109.4" y="300.95" width="6.4" height="6.4" fill="none" stroke="#FF0000" stroke-width="1.3"/><rect x="109.4" y="296.71" width="6.4" height="6.4" fill="none" stroke="#FF0000" stroke-width="1.3"/><rect x="109.42" y="292.48" width="6.4" height="6.4" fill="none" stroke="#FF0000" stroke-width="1.3"/><rect x="109.43" y="288.24" width="6.4" height="6.4" fill="none" stroke="#FF0000" stroke-width="1.3"/><rect x="109.45" y="284.01" width="6.4" height="6.4" fill="none" stroke="#FF0000" stroke-width="1.3"/><rect x="109.46" y="279.77" width="6.4" height="6.4" fill="none" stroke="#FF0000" stroke-width="1.3"/><rect x="109.48" y="275.54" width="6.4" height="6.4" fill="none" stroke="#FF0000" stroke-width="1.3"/><rect x="109.5" y="271.31" width="6.4" height="6.4" fill="none" stroke="#FF0000" stroke-width="1.3"/><rect x="109.51" y="267.07" width="6.4" height="6.4" fill="none" stroke="#FF0000" stroke-width="1.3"/><rect x="109.53" y="262.83" width="6.4" height="6.4" fill="none" stroke="#FF0000" stroke-width="1.3"/><rect x="109.54" y="258.6" width="6.4" height="6.4" fill="none" stroke="#FF0000" stroke-width="1.3"/><rect x="109.56" y="254.36" width="6.4" height="6.4" fill="none" stroke="#FF0000" stroke-width="1.3"/><rect x="109.58" y="250.13" width="6.4" height="6.4" fill="none" stroke="#FF0000" stroke-width="1.3"/><rect x="109.59" y="245.89" width="6.4" height="6.4" fill="none" stroke="#FF0000" stroke-width="1.3"/><rect x="109.61" y="241.66" width="6.4" height="6.4" fill="none" stroke="#FF0000" stroke-width="1.3"/><rect x="109.62" y="237.42" width="6.4" height="6.4" fill="none" stroke="#FF0000" stroke-width="1.3"/><rect x="109.64" y="233.19" width="6.4" height="6.4" fill="none" stroke="#FF0000" stroke-width="1.3"/><rect x="109.65" y="228.95" width="6.4" height="6.4" fill="none" stroke="#FF0000" stroke-width="1.3"/><rect x="109.67" y="224.72" width="6.4" height="6.4" fill="none" stroke="#FF0000" stroke-width="1.3"/><rect x="109.69" y="220.48" width="6.4" height="6.4" fill="none" stroke="#FF0000" stroke-width="1.3"/><rect x="109.7" y="216.25" width="6.4" height="6.4" fill="none" stroke="#FF0000" stroke-width="1.3"/><rect x="109.74" y="212.01" width="6.4" height="6.4" fill="none" stroke="#FF0000" stroke-width="1.3"/><rect x="109.78" y="207.78" width="6.4" height="6.4" fill="none" stroke="#FF0000" stroke-width="1.3"/><rect x="109.81" y="203.54" width="6.4" height="6.4" fill="none" stroke="#FF0000" stroke-width="1.3"/><rect x="109.85" y="199.31" width="6.4" height="6.4" fill="none" stroke="#FF0000" stroke-width="1.3"/><rect x="109.89" y="195.07" width="6.4" height="6.4" fill="none" stroke="#FF0000" stroke-width="1.3"/><rect x="109.92" y="190.84" width="6.4" height="6.4" fill="none" stroke="#FF0000" stroke-width="1.3"/><rect x="109.96" y="186.6" width="6.4" height="6.4" fill="none" stroke="#FF0000" stroke-width="1.3"/><rect x="110" y="182.37" width="6.4" height="6.4" fill="none" stroke="#FF0000" stroke-width="1.3"/><rect x="110.09" y="178.13" width="6.4" height="6.4" fill="none" stroke="#FF0000" stroke-width="1.3"/><rect x="110.2" y="173.9" width="6.4" height="6.4" fill="none" stroke="#FF0000" stroke-width="1.3"/><rect x="111" y="169.66" width="6.4" height="6.4" fill="none" stroke="#FF0000" stroke-width="1.3"/><rect x="115.6" y="165.43" width="6.4" height="6.4" fill="none" stroke="#FF0000" stroke-width="1.3"/><rect x="118.3" y="161.19" width="6.4" height="6.4" fill="none" stroke="#FF0000" stroke-width="1.3"/><rect x="124.3" y="156.96" width="6.4" height="6.4" fill="none" stroke="#FF0000" stroke-width="1.3"/><rect x="125.3" y="152.72" width="6.4" height="6.4" fill="none" stroke="#FF0000" stroke-width="1.3"/><rect x="133.3" y="148.49" width="6.4" height="6.4" fill="none" stroke="#FF0000" stroke-width="1.3"/><rect x="134.8" y="144.25" width="6.4" height="6.4" fill="none" stroke="#FF0000" stroke-width="1.3"/><rect x="141.1" y="140.02" width="6.4" height="6.4" fill="none" stroke="#FF0000" stroke-width="1.3"/><rect x="147.1" y="135.78" width="6.4" height="6.4" fill="none" stroke="#FF0000" stroke-width="1.3"/><rect x="153.4" y="131.55" width="6.4" height="6.4" fill="none" stroke="#FF0000" stroke-width="1.3"/><rect x="159.8" y="127.31" width="6.4" height="6.4" fill="none" stroke="#FF0000" stroke-width="1.3"/><rect x="167" y="123.08" width="6.4" height="6.4" fill="none" stroke="#FF0000" stroke-width="1.3"/><rect x="176.6" y="118.84" width="6.4" height="6.4" fill="none" stroke="#FF0000" stroke-width="1.3"/><rect x="189.2" y="114.61" width="6.4" height="6.4" fill="none" stroke="#FF0000" stroke-width="1.3"/><rect x="199.4" y="110.37" width="6.4" height="6.4" fill="none" stroke="#FF0000" stroke-width="1.3"/><rect x="210" y="106.14" width="6.4" height="6.4" fill="none" stroke="#FF0000" stroke-width="1.3"/><rect x="221.4" y="101.9" width="6.4" height="6.4" fill="none" stroke="#FF0000" stroke-width="1.3"/><rect x="233.6" y="97.67" width="6.4" height="6.4" fill="none" stroke="#FF0000" stroke-width="1.3"/><rect x="246.8" y="93.43" width="6.4" height="6.4" fill="none" stroke="#FF0000" stroke-width="1.3"/><rect x="264" y="89.2" width="6.4" height="6.4" fill="none" stroke="#FF0000" stroke-width="1.3"/><rect x="279.7" y="84.96" width="6.4" height="6.4" fill="none" stroke="#FF0000" stroke-width="1.3"/><rect x="308.3" y="80.73" width="6.4" height="6.4" fill="none" stroke="#FF0000" stroke-width="1.3"/><rect x="339.3" y="76.49" width="6.4" height="6.4" fill="none" stroke="#FF0000" stroke-width="1.3"/><rect x="362.3" y="72.26" width="6.4" height="6.4" fill="none" stroke="#FF0000" stroke-width="1.3"/><rect x="384.2" y="68.02" width="6.4" height="6.4" fill="none" stroke="#FF0000" stroke-width="1.3"/><rect x="408" y="63.79" width="6.4" height="6.4" fill="none" stroke="#FF0000" stroke-width="1.3"/><rect x="425.6" y="59.55" width="6.4" height="6.4" fill="none" stroke="#FF0000" stroke-width="1.3"/><rect x="435.6" y="55.32" width="6.4" height="6.4" fill="none" stroke="#FF0000" stroke-width="1.3"/><rect x="462.8" y="51.08" width="6.4" height="6.4" fill="none" stroke="#FF0000" stroke-width="1.3"/><rect x="579.7" y="46.7" width="6.4" height="6.4" fill="none" stroke="#FF0000" stroke-width="1.3"/><path d="M85.2 423.66l3.3 3.3l-3.3 3.3l-3.3 -3.3z" fill="none" stroke="#1010C8" stroke-width="1.0"/><path d="M97.4 419.43l3.3 3.3l-3.3 3.3l-3.3 -3.3z" fill="none" stroke="#1010C8" stroke-width="1.0"/><path d="M103.7 415.19l3.3 3.3l-3.3 3.3l-3.3 -3.3z" fill="none" stroke="#1010C8" stroke-width="1.0"/><path d="M109 410.96l3.3 3.3l-3.3 3.3l-3.3 -3.3z" fill="none" stroke="#1010C8" stroke-width="1.0"/><path d="M112 406.72l3.3 3.3l-3.3 3.3l-3.3 -3.3z" fill="none" stroke="#1010C8" stroke-width="1.0"/><path d="M112.7 402.49l3.3 3.3l-3.3 3.3l-3.3 -3.3z" fill="none" stroke="#1010C8" stroke-width="1.0"/><path d="M112.68 398.25l3.3 3.3l-3.3 3.3l-3.3 -3.3z" fill="none" stroke="#1010C8" stroke-width="1.0"/><path d="M112.67 394.02l3.3 3.3l-3.3 3.3l-3.3 -3.3z" fill="none" stroke="#1010C8" stroke-width="1.0"/><path d="M112.65 389.78l3.3 3.3l-3.3 3.3l-3.3 -3.3z" fill="none" stroke="#1010C8" stroke-width="1.0"/><path d="M112.63 385.55l3.3 3.3l-3.3 3.3l-3.3 -3.3z" fill="none" stroke="#1010C8" stroke-width="1.0"/><path d="M112.62 381.31l3.3 3.3l-3.3 3.3l-3.3 -3.3z" fill="none" stroke="#1010C8" stroke-width="1.0"/><path d="M112.6 377.08l3.3 3.3l-3.3 3.3l-3.3 -3.3z" fill="none" stroke="#1010C8" stroke-width="1.0"/><path d="M112.6 372.84l3.3 3.3l-3.3 3.3l-3.3 -3.3z" fill="none" stroke="#1010C8" stroke-width="1.0"/><path d="M112.6 368.61l3.3 3.3l-3.3 3.3l-3.3 -3.3z" fill="none" stroke="#1010C8" stroke-width="1.0"/><path d="M112.6 364.37l3.3 3.3l-3.3 3.3l-3.3 -3.3z" fill="none" stroke="#1010C8" stroke-width="1.0"/><path d="M112.6 360.14l3.3 3.3l-3.3 3.3l-3.3 -3.3z" fill="none" stroke="#1010C8" stroke-width="1.0"/><path d="M112.6 355.9l3.3 3.3l-3.3 3.3l-3.3 -3.3z" fill="none" stroke="#1010C8" stroke-width="1.0"/><path d="M112.6 351.67l3.3 3.3l-3.3 3.3l-3.3 -3.3z" fill="none" stroke="#1010C8" stroke-width="1.0"/><path d="M112.6 347.44l3.3 3.3l-3.3 3.3l-3.3 -3.3z" fill="none" stroke="#1010C8" stroke-width="1.0"/><path d="M112.6 343.2l3.3 3.3l-3.3 3.3l-3.3 -3.3z" fill="none" stroke="#1010C8" stroke-width="1.0"/><path d="M112.6 338.96l3.3 3.3l-3.3 3.3l-3.3 -3.3z" fill="none" stroke="#1010C8" stroke-width="1.0"/><path d="M112.6 334.73l3.3 3.3l-3.3 3.3l-3.3 -3.3z" fill="none" stroke="#1010C8" stroke-width="1.0"/><path d="M112.6 330.49l3.3 3.3l-3.3 3.3l-3.3 -3.3z" fill="none" stroke="#1010C8" stroke-width="1.0"/><path d="M112.6 326.26l3.3 3.3l-3.3 3.3l-3.3 -3.3z" fill="none" stroke="#1010C8" stroke-width="1.0"/><path d="M112.6 322.02l3.3 3.3l-3.3 3.3l-3.3 -3.3z" fill="none" stroke="#1010C8" stroke-width="1.0"/><path d="M112.6 317.79l3.3 3.3l-3.3 3.3l-3.3 -3.3z" fill="none" stroke="#1010C8" stroke-width="1.0"/><path d="M112.6 313.55l3.3 3.3l-3.3 3.3l-3.3 -3.3z" fill="none" stroke="#1010C8" stroke-width="1.0"/><path d="M112.6 309.32l3.3 3.3l-3.3 3.3l-3.3 -3.3z" fill="none" stroke="#1010C8" stroke-width="1.0"/><path d="M112.6 305.08l3.3 3.3l-3.3 3.3l-3.3 -3.3z" fill="none" stroke="#1010C8" stroke-width="1.0"/><path d="M112.6 300.85l3.3 3.3l-3.3 3.3l-3.3 -3.3z" fill="none" stroke="#1010C8" stroke-width="1.0"/><path d="M112.6 296.61l3.3 3.3l-3.3 3.3l-3.3 -3.3z" fill="none" stroke="#1010C8" stroke-width="1.0"/><path d="M112.62 292.38l3.3 3.3l-3.3 3.3l-3.3 -3.3z" fill="none" stroke="#1010C8" stroke-width="1.0"/><path d="M112.63 288.14l3.3 3.3l-3.3 3.3l-3.3 -3.3z" fill="none" stroke="#1010C8" stroke-width="1.0"/><path d="M112.65 283.91l3.3 3.3l-3.3 3.3l-3.3 -3.3z" fill="none" stroke="#1010C8" stroke-width="1.0"/><path d="M112.66 279.67l3.3 3.3l-3.3 3.3l-3.3 -3.3z" fill="none" stroke="#1010C8" stroke-width="1.0"/><path d="M112.68 275.44l3.3 3.3l-3.3 3.3l-3.3 -3.3z" fill="none" stroke="#1010C8" stroke-width="1.0"/><path d="M112.7 271.2l3.3 3.3l-3.3 3.3l-3.3 -3.3z" fill="none" stroke="#1010C8" stroke-width="1.0"/><path d="M112.71 266.97l3.3 3.3l-3.3 3.3l-3.3 -3.3z" fill="none" stroke="#1010C8" stroke-width="1.0"/><path d="M112.73 262.73l3.3 3.3l-3.3 3.3l-3.3 -3.3z" fill="none" stroke="#1010C8" stroke-width="1.0"/><path d="M112.74 258.5l3.3 3.3l-3.3 3.3l-3.3 -3.3z" fill="none" stroke="#1010C8" stroke-width="1.0"/><path d="M112.76 254.26l3.3 3.3l-3.3 3.3l-3.3 -3.3z" fill="none" stroke="#1010C8" stroke-width="1.0"/><path d="M112.78 250.03l3.3 3.3l-3.3 3.3l-3.3 -3.3z" fill="none" stroke="#1010C8" stroke-width="1.0"/><path d="M112.79 245.79l3.3 3.3l-3.3 3.3l-3.3 -3.3z" fill="none" stroke="#1010C8" stroke-width="1.0"/><path d="M112.81 241.56l3.3 3.3l-3.3 3.3l-3.3 -3.3z" fill="none" stroke="#1010C8" stroke-width="1.0"/><path d="M112.82 237.32l3.3 3.3l-3.3 3.3l-3.3 -3.3z" fill="none" stroke="#1010C8" stroke-width="1.0"/><path d="M112.84 233.09l3.3 3.3l-3.3 3.3l-3.3 -3.3z" fill="none" stroke="#1010C8" stroke-width="1.0"/><path d="M112.85 228.85l3.3 3.3l-3.3 3.3l-3.3 -3.3z" fill="none" stroke="#1010C8" stroke-width="1.0"/><path d="M112.87 224.62l3.3 3.3l-3.3 3.3l-3.3 -3.3z" fill="none" stroke="#1010C8" stroke-width="1.0"/><path d="M112.89 220.38l3.3 3.3l-3.3 3.3l-3.3 -3.3z" fill="none" stroke="#1010C8" stroke-width="1.0"/><path d="M112.9 216.15l3.3 3.3l-3.3 3.3l-3.3 -3.3z" fill="none" stroke="#1010C8" stroke-width="1.0"/><path d="M112.94 211.91l3.3 3.3l-3.3 3.3l-3.3 -3.3z" fill="none" stroke="#1010C8" stroke-width="1.0"/><path d="M112.98 207.68l3.3 3.3l-3.3 3.3l-3.3 -3.3z" fill="none" stroke="#1010C8" stroke-width="1.0"/><path d="M113.01 203.44l3.3 3.3l-3.3 3.3l-3.3 -3.3z" fill="none" stroke="#1010C8" stroke-width="1.0"/><path d="M113.05 199.21l3.3 3.3l-3.3 3.3l-3.3 -3.3z" fill="none" stroke="#1010C8" stroke-width="1.0"/><path d="M113.09 194.97l3.3 3.3l-3.3 3.3l-3.3 -3.3z" fill="none" stroke="#1010C8" stroke-width="1.0"/><path d="M113.12 190.74l3.3 3.3l-3.3 3.3l-3.3 -3.3z" fill="none" stroke="#1010C8" stroke-width="1.0"/><path d="M113.16 186.5l3.3 3.3l-3.3 3.3l-3.3 -3.3z" fill="none" stroke="#1010C8" stroke-width="1.0"/><path d="M113.2 182.27l3.3 3.3l-3.3 3.3l-3.3 -3.3z" fill="none" stroke="#1010C8" stroke-width="1.0"/><path d="M113.29 178.03l3.3 3.3l-3.3 3.3l-3.3 -3.3z" fill="none" stroke="#1010C8" stroke-width="1.0"/><path d="M113.4 173.8l3.3 3.3l-3.3 3.3l-3.3 -3.3z" fill="none" stroke="#1010C8" stroke-width="1.0"/><path d="M114.2 169.56l3.3 3.3l-3.3 3.3l-3.3 -3.3z" fill="none" stroke="#1010C8" stroke-width="1.0"/><path d="M118.8 165.33l3.3 3.3l-3.3 3.3l-3.3 -3.3z" fill="none" stroke="#1010C8" stroke-width="1.0"/><path d="M121.5 161.09l3.3 3.3l-3.3 3.3l-3.3 -3.3z" fill="none" stroke="#1010C8" stroke-width="1.0"/><path d="M127.5 156.86l3.3 3.3l-3.3 3.3l-3.3 -3.3z" fill="none" stroke="#1010C8" stroke-width="1.0"/><path d="M128.5 152.62l3.3 3.3l-3.3 3.3l-3.3 -3.3z" fill="none" stroke="#1010C8" stroke-width="1.0"/><path d="M136.5 148.39l3.3 3.3l-3.3 3.3l-3.3 -3.3z" fill="none" stroke="#1010C8" stroke-width="1.0"/><path d="M138 144.15l3.3 3.3l-3.3 3.3l-3.3 -3.3z" fill="none" stroke="#1010C8" stroke-width="1.0"/><path d="M144.3 139.92l3.3 3.3l-3.3 3.3l-3.3 -3.3z" fill="none" stroke="#1010C8" stroke-width="1.0"/><path d="M150.3 135.68l3.3 3.3l-3.3 3.3l-3.3 -3.3z" fill="none" stroke="#1010C8" stroke-width="1.0"/><path d="M156.6 131.45l3.3 3.3l-3.3 3.3l-3.3 -3.3z" fill="none" stroke="#1010C8" stroke-width="1.0"/><path d="M163 127.21l3.3 3.3l-3.3 3.3l-3.3 -3.3z" fill="none" stroke="#1010C8" stroke-width="1.0"/><path d="M170.2 122.98l3.3 3.3l-3.3 3.3l-3.3 -3.3z" fill="none" stroke="#1010C8" stroke-width="1.0"/><path d="M179.8 118.74l3.3 3.3l-3.3 3.3l-3.3 -3.3z" fill="none" stroke="#1010C8" stroke-width="1.0"/><path d="M192.4 114.51l3.3 3.3l-3.3 3.3l-3.3 -3.3z" fill="none" stroke="#1010C8" stroke-width="1.0"/><path d="M202.6 110.27l3.3 3.3l-3.3 3.3l-3.3 -3.3z" fill="none" stroke="#1010C8" stroke-width="1.0"/><path d="M213.2 106.04l3.3 3.3l-3.3 3.3l-3.3 -3.3z" fill="none" stroke="#1010C8" stroke-width="1.0"/><path d="M224.6 101.8l3.3 3.3l-3.3 3.3l-3.3 -3.3z" fill="none" stroke="#1010C8" stroke-width="1.0"/><path d="M236.8 97.57l3.3 3.3l-3.3 3.3l-3.3 -3.3z" fill="none" stroke="#1010C8" stroke-width="1.0"/><path d="M250 93.33l3.3 3.3l-3.3 3.3l-3.3 -3.3z" fill="none" stroke="#1010C8" stroke-width="1.0"/><path d="M267.2 89.1l3.3 3.3l-3.3 3.3l-3.3 -3.3z" fill="none" stroke="#1010C8" stroke-width="1.0"/><path d="M282.9 84.86l3.3 3.3l-3.3 3.3l-3.3 -3.3z" fill="none" stroke="#1010C8" stroke-width="1.0"/><path d="M311.5 80.63l3.3 3.3l-3.3 3.3l-3.3 -3.3z" fill="none" stroke="#1010C8" stroke-width="1.0"/><path d="M342.5 76.39l3.3 3.3l-3.3 3.3l-3.3 -3.3z" fill="none" stroke="#1010C8" stroke-width="1.0"/><path d="M365.5 72.16l3.3 3.3l-3.3 3.3l-3.3 -3.3z" fill="none" stroke="#1010C8" stroke-width="1.0"/><path d="M387.4 67.92l3.3 3.3l-3.3 3.3l-3.3 -3.3z" fill="none" stroke="#1010C8" stroke-width="1.0"/><path d="M411.2 63.69l3.3 3.3l-3.3 3.3l-3.3 -3.3z" fill="none" stroke="#1010C8" stroke-width="1.0"/><path d="M428.8 59.45l3.3 3.3l-3.3 3.3l-3.3 -3.3z" fill="none" stroke="#1010C8" stroke-width="1.0"/><path d="M438.8 55.22l3.3 3.3l-3.3 3.3l-3.3 -3.3z" fill="none" stroke="#1010C8" stroke-width="1.0"/><path d="M466 50.98l3.3 3.3l-3.3 3.3l-3.3 -3.3z" fill="none" stroke="#1010C8" stroke-width="1.0"/><path d="M582.9 46.6l3.3 3.3l-3.3 3.3l-3.3 -3.3z" fill="none" stroke="#1010C8" stroke-width="1.0"/><path d="M73.8 427.9l3.35 6.5h-6.7z" fill="none" stroke="#168A16" stroke-width="1.0"/><path d="M90.7 423.66l3.35 6.5h-6.7z" fill="none" stroke="#168A16" stroke-width="1.0"/><path d="M101 419.43l3.35 6.5h-6.7z" fill="none" stroke="#168A16" stroke-width="1.0"/><path d="M106.9 415.19l3.35 6.5h-6.7z" fill="none" stroke="#168A16" stroke-width="1.0"/><path d="M110.9 410.96l3.35 6.5h-6.7z" fill="none" stroke="#168A16" stroke-width="1.0"/><path d="M112.3 406.72l3.35 6.5h-6.7z" fill="none" stroke="#168A16" stroke-width="1.0"/><path d="M112.8 402.49l3.35 6.5h-6.7z" fill="none" stroke="#168A16" stroke-width="1.0"/><path d="M112.77 398.25l3.35 6.5h-6.7z" fill="none" stroke="#168A16" stroke-width="1.0"/><path d="M112.73 394.02l3.35 6.5h-6.7z" fill="none" stroke="#168A16" stroke-width="1.0"/><path d="M112.7 389.78l3.35 6.5h-6.7z" fill="none" stroke="#168A16" stroke-width="1.0"/><path d="M112.67 385.55l3.35 6.5h-6.7z" fill="none" stroke="#168A16" stroke-width="1.0"/><path d="M112.64 381.31l3.35 6.5h-6.7z" fill="none" stroke="#168A16" stroke-width="1.0"/><path d="M112.6 377.08l3.35 6.5h-6.7z" fill="none" stroke="#168A16" stroke-width="1.0"/><path d="M112.6 372.84l3.35 6.5h-6.7z" fill="none" stroke="#168A16" stroke-width="1.0"/><path d="M112.6 368.61l3.35 6.5h-6.7z" fill="none" stroke="#168A16" stroke-width="1.0"/><path d="M112.6 364.37l3.35 6.5h-6.7z" fill="none" stroke="#168A16" stroke-width="1.0"/><path d="M112.6 360.14l3.35 6.5h-6.7z" fill="none" stroke="#168A16" stroke-width="1.0"/><path d="M112.6 355.9l3.35 6.5h-6.7z" fill="none" stroke="#168A16" stroke-width="1.0"/><path d="M112.6 351.67l3.35 6.5h-6.7z" fill="none" stroke="#168A16" stroke-width="1.0"/><path d="M112.6 347.44l3.35 6.5h-6.7z" fill="none" stroke="#168A16" stroke-width="1.0"/><path d="M112.6 343.2l3.35 6.5h-6.7z" fill="none" stroke="#168A16" stroke-width="1.0"/><path d="M112.6 338.96l3.35 6.5h-6.7z" fill="none" stroke="#168A16" stroke-width="1.0"/><path d="M112.6 334.73l3.35 6.5h-6.7z" fill="none" stroke="#168A16" stroke-width="1.0"/><path d="M112.6 330.49l3.35 6.5h-6.7z" fill="none" stroke="#168A16" stroke-width="1.0"/><path d="M112.6 326.26l3.35 6.5h-6.7z" fill="none" stroke="#168A16" stroke-width="1.0"/><path d="M112.6 322.02l3.35 6.5h-6.7z" fill="none" stroke="#168A16" stroke-width="1.0"/><path d="M112.6 317.79l3.35 6.5h-6.7z" fill="none" stroke="#168A16" stroke-width="1.0"/><path d="M112.6 313.55l3.35 6.5h-6.7z" fill="none" stroke="#168A16" stroke-width="1.0"/><path d="M112.6 309.32l3.35 6.5h-6.7z" fill="none" stroke="#168A16" stroke-width="1.0"/><path d="M112.6 305.08l3.35 6.5h-6.7z" fill="none" stroke="#168A16" stroke-width="1.0"/><path d="M112.6 300.85l3.35 6.5h-6.7z" fill="none" stroke="#168A16" stroke-width="1.0"/><path d="M112.6 296.61l3.35 6.5h-6.7z" fill="none" stroke="#168A16" stroke-width="1.0"/><path d="M112.62 292.38l3.35 6.5h-6.7z" fill="none" stroke="#168A16" stroke-width="1.0"/><path d="M112.63 288.14l3.35 6.5h-6.7z" fill="none" stroke="#168A16" stroke-width="1.0"/><path d="M112.65 283.91l3.35 6.5h-6.7z" fill="none" stroke="#168A16" stroke-width="1.0"/><path d="M112.66 279.67l3.35 6.5h-6.7z" fill="none" stroke="#168A16" stroke-width="1.0"/><path d="M112.68 275.44l3.35 6.5h-6.7z" fill="none" stroke="#168A16" stroke-width="1.0"/><path d="M112.7 271.2l3.35 6.5h-6.7z" fill="none" stroke="#168A16" stroke-width="1.0"/><path d="M112.71 266.97l3.35 6.5h-6.7z" fill="none" stroke="#168A16" stroke-width="1.0"/><path d="M112.73 262.73l3.35 6.5h-6.7z" fill="none" stroke="#168A16" stroke-width="1.0"/><path d="M112.74 258.5l3.35 6.5h-6.7z" fill="none" stroke="#168A16" stroke-width="1.0"/><path d="M112.76 254.26l3.35 6.5h-6.7z" fill="none" stroke="#168A16" stroke-width="1.0"/><path d="M112.78 250.03l3.35 6.5h-6.7z" fill="none" stroke="#168A16" stroke-width="1.0"/><path d="M112.79 245.79l3.35 6.5h-6.7z" fill="none" stroke="#168A16" stroke-width="1.0"/><path d="M112.81 241.56l3.35 6.5h-6.7z" fill="none" stroke="#168A16" stroke-width="1.0"/><path d="M112.82 237.32l3.35 6.5h-6.7z" fill="none" stroke="#168A16" stroke-width="1.0"/><path d="M112.84 233.09l3.35 6.5h-6.7z" fill="none" stroke="#168A16" stroke-width="1.0"/><path d="M112.85 228.85l3.35 6.5h-6.7z" fill="none" stroke="#168A16" stroke-width="1.0"/><path d="M112.87 224.62l3.35 6.5h-6.7z" fill="none" stroke="#168A16" stroke-width="1.0"/><path d="M112.89 220.38l3.35 6.5h-6.7z" fill="none" stroke="#168A16" stroke-width="1.0"/><path d="M112.9 216.15l3.35 6.5h-6.7z" fill="none" stroke="#168A16" stroke-width="1.0"/><path d="M112.94 211.91l3.35 6.5h-6.7z" fill="none" stroke="#168A16" stroke-width="1.0"/><path d="M112.98 207.68l3.35 6.5h-6.7z" fill="none" stroke="#168A16" stroke-width="1.0"/><path d="M113.01 203.44l3.35 6.5h-6.7z" fill="none" stroke="#168A16" stroke-width="1.0"/><path d="M113.05 199.21l3.35 6.5h-6.7z" fill="none" stroke="#168A16" stroke-width="1.0"/><path d="M113.09 194.97l3.35 6.5h-6.7z" fill="none" stroke="#168A16" stroke-width="1.0"/><path d="M113.12 190.74l3.35 6.5h-6.7z" fill="none" stroke="#168A16" stroke-width="1.0"/><path d="M113.16 186.5l3.35 6.5h-6.7z" fill="none" stroke="#168A16" stroke-width="1.0"/><path d="M113.2 182.27l3.35 6.5h-6.7z" fill="none" stroke="#168A16" stroke-width="1.0"/><path d="M113.29 178.03l3.35 6.5h-6.7z" fill="none" stroke="#168A16" stroke-width="1.0"/><path d="M113.4 173.8l3.35 6.5h-6.7z" fill="none" stroke="#168A16" stroke-width="1.0"/><path d="M114.2 169.56l3.35 6.5h-6.7z" fill="none" stroke="#168A16" stroke-width="1.0"/><path d="M118.8 165.33l3.35 6.5h-6.7z" fill="none" stroke="#168A16" stroke-width="1.0"/><path d="M121.5 161.09l3.35 6.5h-6.7z" fill="none" stroke="#168A16" stroke-width="1.0"/><path d="M127.5 156.86l3.35 6.5h-6.7z" fill="none" stroke="#168A16" stroke-width="1.0"/><path d="M128.5 152.62l3.35 6.5h-6.7z" fill="none" stroke="#168A16" stroke-width="1.0"/><path d="M136.5 148.39l3.35 6.5h-6.7z" fill="none" stroke="#168A16" stroke-width="1.0"/><path d="M138 144.15l3.35 6.5h-6.7z" fill="none" stroke="#168A16" stroke-width="1.0"/><path d="M144.3 139.92l3.35 6.5h-6.7z" fill="none" stroke="#168A16" stroke-width="1.0"/><path d="M150.3 135.68l3.35 6.5h-6.7z" fill="none" stroke="#168A16" stroke-width="1.0"/><path d="M156.6 131.45l3.35 6.5h-6.7z" fill="none" stroke="#168A16" stroke-width="1.0"/><path d="M163 127.21l3.35 6.5h-6.7z" fill="none" stroke="#168A16" stroke-width="1.0"/><path d="M170.2 122.98l3.35 6.5h-6.7z" fill="none" stroke="#168A16" stroke-width="1.0"/><path d="M179.8 118.74l3.35 6.5h-6.7z" fill="none" stroke="#168A16" stroke-width="1.0"/><path d="M187.2 114.51l3.35 6.5h-6.7z" fill="none" stroke="#168A16" stroke-width="1.0"/><path d="M197.6 110.27l3.35 6.5h-6.7z" fill="none" stroke="#168A16" stroke-width="1.0"/><path d="M207.3 106.04l3.35 6.5h-6.7z" fill="none" stroke="#168A16" stroke-width="1.0"/><path d="M218.8 101.8l3.35 6.5h-6.7z" fill="none" stroke="#168A16" stroke-width="1.0"/><path d="M231 97.57l3.35 6.5h-6.7z" fill="none" stroke="#168A16" stroke-width="1.0"/><path d="M245.4 93.33l3.35 6.5h-6.7z" fill="none" stroke="#168A16" stroke-width="1.0"/><path d="M262 89.1l3.35 6.5h-6.7z" fill="none" stroke="#168A16" stroke-width="1.0"/><path d="M282.9 84.86l3.35 6.5h-6.7z" fill="none" stroke="#168A16" stroke-width="1.0"/><path d="M311.5 80.63l3.35 6.5h-6.7z" fill="none" stroke="#168A16" stroke-width="1.0"/><path d="M342.5 76.39l3.35 6.5h-6.7z" fill="none" stroke="#168A16" stroke-width="1.0"/><path d="M371 72.16l3.35 6.5h-6.7z" fill="none" stroke="#168A16" stroke-width="1.0"/><path d="M392.8 67.92l3.35 6.5h-6.7z" fill="none" stroke="#168A16" stroke-width="1.0"/><path d="M413.7 63.69l3.35 6.5h-6.7z" fill="none" stroke="#168A16" stroke-width="1.0"/><path d="M433.5 59.45l3.35 6.5h-6.7z" fill="none" stroke="#168A16" stroke-width="1.0"/><path d="M451.5 55.22l3.35 6.5h-6.7z" fill="none" stroke="#168A16" stroke-width="1.0"/><path d="M486.4 50.98l3.35 6.5h-6.7z" fill="none" stroke="#168A16" stroke-width="1.0"/><path d="M586 47l3.35 6.5h-6.7z" fill="none" stroke="#168A16" stroke-width="1.0"/></g>
<rect x="353.7" y="177.6" width="306.8" height="246.7" fill="#fff" stroke="#000" stroke-width="2.4"/><path d="M379 195.5H421.8" stroke="#595a5d" stroke-width="2.6" stroke-dasharray="15.7 11.1" fill="none"/><text x="431" y="200.8" font-size="16.8" letter-spacing="0.1" fill="#666666">benchmark (u<tspan font-size="11.5" dy="6.5">40,max</tspan><tspan dy="-6.5">)</tspan></text><circle cx="395.8" cy="224.3" r="3.75" fill="#0000CD"/><text x="431" y="229.6" font-size="16.8" letter-spacing="0.1" fill="#0000CD">result from 2D model</text><rect x="392.6" y="242.7" width="6.4" height="6.4" fill="none" stroke="#9A22D0" stroke-width="1.3"/><text x="431" y="251.2" font-size="16.8" letter-spacing="0.1" fill="#9A22D0">result from 3D model (path-1)</text><path d="M395.8 264.2l3.3 3.3l-3.3 3.3l-3.3 -3.3z" fill="none" stroke="#3575F5" stroke-width="1.0"/><text x="431" y="272.8" font-size="16.8" letter-spacing="0.1" fill="#3575F5">result from 3D model (path-2)</text><path d="M395.8 286l3.35 6.5h-6.7z" fill="none" stroke="#000000" stroke-width="1.0"/><text x="431" y="294.4" font-size="16.8" letter-spacing="0.1" fill="#000000">result from 3D model (path-3)</text><circle cx="395.8" cy="342" r="3.75" fill="#FF0000"/><text x="431" y="347.3" font-size="16.8" letter-spacing="0.1" fill="#FF0000">result from 2D model</text><rect x="392.6" y="360.6" width="6.4" height="6.4" fill="none" stroke="#FF0000" stroke-width="1.3"/><text x="431" y="368.9" font-size="16.8" letter-spacing="0.1" fill="#FF0000">result from 3D model (path-1)</text><path d="M395.8 381.9l3.3 3.3l-3.3 3.3l-3.3 -3.3z" fill="none" stroke="#1010C8" stroke-width="1.0"/><text x="431" y="390.5" font-size="16.8" letter-spacing="0.1" fill="#1010C8">result from 3D model (path-2)</text><path d="M395.8 404.3l3.35 6.5h-6.7z" fill="none" stroke="#168A16" stroke-width="1.0"/><text x="431" y="412.1" font-size="16.8" letter-spacing="0.1" fill="#168A16">result from 3D model (path-3)</text><path d="M370.5 313.1H421.9" stroke="#595a5d" stroke-width="2.6" stroke-dasharray="4 6 4 4.7 13.4 3.5 15.8" fill="none"/><text x="431" y="318.5" font-size="16.8" letter-spacing="0.1" fill="#666666">benchmark (u<tspan font-size="11.5" dy="6.5">70,max</tspan><tspan dy="-6.5">)</tspan></text>
</svg></body></html>
